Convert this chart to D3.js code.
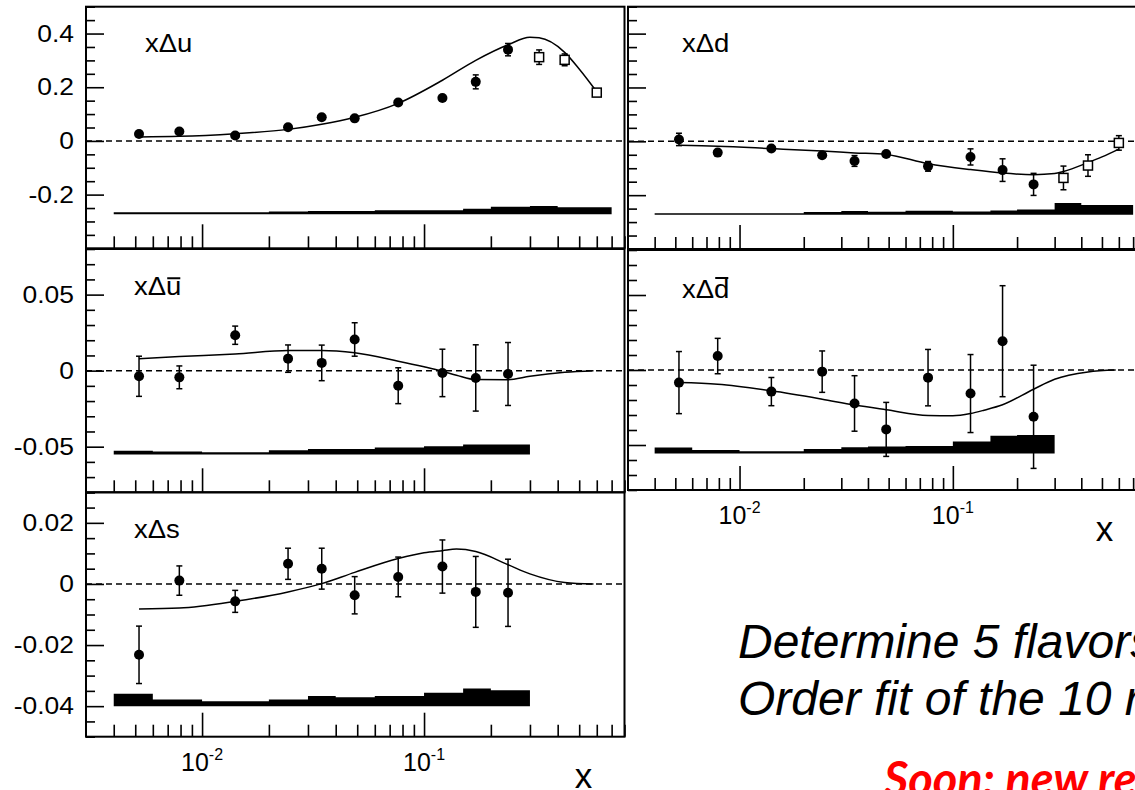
<!DOCTYPE html>
<html>
<head>
<meta charset="utf-8">
<script src="https://cdn.jsdelivr.net/npm/d3@7"></script>
<style>
body { margin: 0; background: #fff; }
svg { display: block; font-family: 'Liberation Sans', Arial, Helvetica, sans-serif; }
</style>
</head>
<body>
<svg id="chart" width="1135" height="790"></svg>
<script>
// x of the measured bins (filled circles) and of the extra points (open squares)
var xBins = [0.0052, 0.0079, 0.0141, 0.0244, 0.0346, 0.0487, 0.0765, 0.121, 0.171, 0.239];
var xOpen = [0.33, 0.43, 0.6];
// edges of the systematic error histogram
var bandEdges = [0.004, 0.006, 0.01, 0.02, 0.03, 0.04, 0.06, 0.1, 0.15, 0.2, 0.3, 0.4, 0.7];
// x where the fit curves were read
var curveXVal = [0.0052, 0.0079, 0.0141, 0.0244, 0.0346, 0.0487, 0.0765, 0.121, 0.171, 0.239, 0.3, 0.33, 0.43, 0.5, 0.6];
var curveXSea = [0.0052, 0.0079, 0.0141, 0.0244, 0.0346, 0.0487, 0.0765, 0.1, 0.121, 0.14, 0.171, 0.239, 0.3, 0.43, 0.58];

// x delta u
var uVal = [0.026, 0.035, 0.020, 0.051, 0.088, 0.084, 0.143, 0.160, 0.220, 0.340];
var uErr = [0.004, 0.004, 0.004, 0.004, 0.004, 0.004, 0.004, 0.004, 0.026, 0.023];
var uOpenVal = [0.312, 0.302, 0.180];
var uOpenErr = [0.027, 0.022, 0.008];
var uCurve = [0.015, 0.017, 0.027, 0.043, 0.062, 0.088, 0.140, 0.226, 0.300, 0.358, 0.386, 0.384, 0.330, 0.268, 0.183];
var uBand = [-0.266, -0.266, -0.266, -0.263, -0.261, -0.261, -0.258, -0.258, -0.253, -0.245, -0.242, -0.247];
var uBandLow = -0.273;

// x delta d
var dVal = [0.007, -0.042, -0.027, -0.052, -0.073, -0.047, -0.093, -0.058, -0.107, -0.160];
var dErr = [0.023, 0.004, 0.004, 0.004, 0.020, 0.004, 0.018, 0.030, 0.042, 0.041];
var dOpenVal = [-0.136, -0.090, -0.006];
var dOpenErr = [0.044, 0.040, 0.027];
var dCurve = [-0.015, -0.018, -0.027, -0.036, -0.043, -0.049, -0.083, -0.105, -0.118, -0.124, -0.120, -0.112, -0.079, -0.058, -0.029];
var dBand = [-0.267, -0.267, -0.267, -0.263, -0.259, -0.262, -0.258, -0.261, -0.257, -0.253, -0.229, -0.237];
var dBandLow = -0.273;

// x delta ubar
var ubVal = [-0.0037, -0.0044, 0.0233, 0.0079, 0.0051, 0.0205, -0.0099, -0.0015, -0.0048, -0.0022];
var ubErr = [0.0132, 0.0075, 0.0060, 0.0090, 0.0117, 0.0110, 0.0118, 0.0156, 0.0218, 0.0207];
var ubCurve = [0.0079, 0.0093, 0.0110, 0.0132, 0.0133, 0.0117, 0.0062, 0.0025, -0.0004, -0.0030, -0.0059, -0.0060, -0.0037, -0.0011, 0];
var ubBand = [-0.0526, -0.0532, -0.0537, -0.0523, -0.0515, -0.0515, -0.0506, -0.0497, -0.0485, -0.0485];
var ubBandLow = -0.0552;

// x delta dbar
var dbVal = [-0.0084, 0.0093, -0.0144, -0.0011, -0.0223, -0.0396, -0.0051, -0.0157, 0.0192, -0.0312];
var dbErr = [0.0207, 0.0118, 0.0094, 0.0138, 0.0185, 0.0180, 0.0188, 0.0260, 0.0370, 0.0344];
var dbCurve = [-0.0084, -0.0095, -0.0139, -0.0195, -0.0234, -0.0265, -0.0303, -0.0305, -0.0290, -0.0268, -0.0232, -0.0128, -0.0062, -0.0013, 0];
var dbBand = [-0.0517, -0.0533, -0.0541, -0.0526, -0.0515, -0.0510, -0.0506, -0.0477, -0.0438, -0.0433];
var dbBandLow = -0.0557;

// x delta s
var sVal = [-0.0232, 0.0011, -0.0057, 0.0066, 0.0050, -0.0037, 0.0023, 0.0057, -0.0026, -0.0029];
var sErr = [0.0094, 0.0048, 0.0036, 0.0051, 0.0067, 0.0061, 0.0065, 0.0087, 0.0116, 0.0110];
var sCurve = [-0.0082, -0.0079, -0.0057, -0.0026, 0.0001, 0.0038, 0.0083, 0.0102, 0.0109, 0.0114, 0.0106, 0.0063, 0.0033, 0.0005, 0];
var sBand = [-0.0359, -0.0378, -0.0384, -0.0378, -0.0367, -0.0371, -0.0367, -0.0356, -0.0342, -0.0348];
var sBandLow = -0.0400;

var xDomain = [0.003, 0.8];
var xMajor = [0.01, 0.1];
var xMinor = [];
[0.001, 0.01, 0.1].forEach(function(dec) {
    for (var k = 2; k <= 9; k++) {
        var v = +(k * dec).toPrecision(3);
        if (v > 0.003 && v <= 0.8 && v != 0.01 && v != 0.1) xMinor.push(v);
    }
});

var svg = d3.select('#chart');
var LEFT = [86, 624.5], RIGHT = [628, 1145.5];

var panels = [
    {xr: LEFT, yr: [6.7, 248.3], ydom: [-0.4, 0.5], yMajor: [-0.2, 0, 0.2, 0.4], yStep: 0.05,
     yLabels: true, xLabels: false, val: uVal, err: uErr, openVal: uOpenVal, openErr: uOpenErr,
     curve: uCurve, cx: curveXVal, band: uBand, bandLow: uBandLow,
     label: ['x\u0394', 'u'], bar: false, lx: 145, ly: 52},
    {xr: RIGHT, yr: [6.7, 249], ydom: [-0.4, 0.5], yMajor: [-0.2, 0, 0.2, 0.4], yStep: 0.05,
     yLabels: false, xLabels: false, val: dVal, err: dErr, openVal: dOpenVal, openErr: dOpenErr,
     curve: dCurve, cx: curveXVal, band: dBand, bandLow: dBandLow,
     label: ['x\u0394', 'd'], bar: false, lx: 682, ly: 52},
    {xr: LEFT, yr: [249, 492.3], ydom: [-0.08, 0.08], yMajor: [-0.05, 0, 0.05], yStep: 0.01,
     yLabels: true, xLabels: false, val: ubVal, err: ubErr,
     curve: ubCurve, cx: curveXSea, band: ubBand, bandLow: ubBandLow,
     label: ['x\u0394', 'u'], bar: true, barH: 0.67, lx: 134, ly: 295},
    {xr: RIGHT, yr: [250, 490], ydom: [-0.08, 0.08], yMajor: [-0.05, 0, 0.05], yStep: 0.01,
     yLabels: false, xLabels: true, val: dbVal, err: dbErr,
     curve: dbCurve, cx: curveXSea, band: dbBand, bandLow: dbBandLow,
     label: ['x\u0394', 'd'], bar: true, barH: 0.8, lx: 682, ly: 298},
    {xr: LEFT, yr: [492.3, 736.7], ydom: [-0.05, 0.03], yMajor: [-0.04, -0.02, 0, 0.02], yStep: 0.005,
     yLabels: true, xLabels: true, val: sVal, err: sErr,
     curve: sCurve, cx: curveXSea, band: sBand, bandLow: sBandLow,
     label: ['x\u0394', 's'], bar: false, lx: 134, ly: 538}
];

function minor_ticks(dom, step, majors) {
    var out = [];
    var i0 = Math.ceil(dom[0] / step - 1e-6), i1 = Math.floor(dom[1] / step + 1e-6);
    for (var i = i0; i <= i1; i++) {
        var v = i * step;
        var isMajor = majors.some(function(m) { return Math.abs(m - v) < step / 10; });
        if (!isMajor) out.push(v);
    }
    return out;
}

function style_axis(a) {
    a.select('.domain').remove();
    a.selectAll('.tick line').attr('stroke', '#000').attr('stroke-width', 1.6);
    a.attr('font-family', null).attr('font-size', null);
}

function draw_panel(p) {
    var x = d3.scaleLog().domain(xDomain).range(p.xr);
    var y = d3.scaleLinear().domain(p.ydom).range([p.yr[1], p.yr[0]]);
    var g = svg.append('g');

    // dashed zero line
    g.append('line')
        .attr('x1', p.xr[0]).attr('x2', p.xr[1])
        .attr('y1', y(0)).attr('y2', y(0))
        .attr('stroke', '#000').attr('stroke-width', 1.5)
        .attr('stroke-dasharray', '6,4');

    // systematic band (histogram)
    var bd = p.band.map(function(t, i) { return {e: bandEdges[i], t: t}; });
    bd.push({e: bandEdges[p.band.length], t: p.band[p.band.length - 1]});
    g.append('path').datum(bd)
        .attr('d', d3.area().curve(d3.curveStepAfter)
            .x(function(d) { return x(d.e); })
            .y0(y(p.bandLow))
            .y1(function(d) { return y(d.t); }))
        .attr('fill', '#000');

    // fit curve
    g.append('path')
        .datum(p.curve.map(function(v, i) { return [p.cx[i], v]; }))
        .attr('d', d3.line().curve(d3.curveMonotoneX)
            .x(function(d) { return x(d[0]); })
            .y(function(d) { return y(d[1]); }))
        .attr('fill', 'none').attr('stroke', '#000').attr('stroke-width', 1.5);

    // points
    var pts = p.val.map(function(v, i) { return {x: xBins[i], v: v, e: p.err[i], open: false}; });
    if (p.openVal) {
        p.openVal.forEach(function(v, i) { pts.push({x: xOpen[i], v: v, e: p.openErr[i], open: true}); });
    }
    var eb = g.selectAll('g.eb').data(pts).enter().append('g')
        .attr('class', 'eb').attr('stroke', '#000').attr('stroke-width', 1.5);
    eb.append('line')
        .attr('x1', function(d) { return x(d.x); }).attr('x2', function(d) { return x(d.x); })
        .attr('y1', function(d) { return y(d.v - d.e); }).attr('y2', function(d) { return y(d.v + d.e); });
    [-1, 1].forEach(function(sgn) {
        eb.append('line')
            .attr('x1', function(d) { return x(d.x) - 3; }).attr('x2', function(d) { return x(d.x) + 3; })
            .attr('y1', function(d) { return y(d.v + sgn * d.e); }).attr('y2', function(d) { return y(d.v + sgn * d.e); });
    });
    g.selectAll('circle.pt').data(pts.filter(function(d) { return !d.open; })).enter()
        .append('circle').attr('class', 'pt')
        .attr('cx', function(d) { return x(d.x); })
        .attr('cy', function(d) { return y(d.v); })
        .attr('r', 5).attr('fill', '#000');
    g.selectAll('rect.pt').data(pts.filter(function(d) { return d.open; })).enter()
        .append('rect').attr('class', 'pt')
        .attr('x', function(d) { return x(d.x) - 4.5; })
        .attr('y', function(d) { return y(d.v) - 4.5; })
        .attr('width', 9).attr('height', 9)
        .attr('fill', '#fff').attr('stroke', '#000').attr('stroke-width', 1.5);

    // y axis: major + minor ticks pointing inward
    var ya = g.append('g').attr('transform', 'translate(' + p.xr[0] + ',0)')
        .call(d3.axisLeft(y).tickValues(p.yMajor).tickSizeInner(-18).tickSizeOuter(0).tickPadding(11)
            .tickFormat(p.yLabels ? function(d) { return String(d); } : function() { return ''; }));
    style_axis(ya);
    ya.selectAll('.tick text')
        .attr('font-size', 24).attr('fill', '#000')
        .attr('transform', 'scale(1.1,1)');
    var ym = g.append('g').attr('transform', 'translate(' + p.xr[0] + ',0)')
        .call(d3.axisLeft(y).tickValues(minor_ticks(p.ydom, p.yStep, p.yMajor))
            .tickSizeInner(-9).tickSizeOuter(0).tickFormat(''));
    style_axis(ym);

    // x axis ticks
    var xa = g.append('g').attr('transform', 'translate(0,' + p.yr[1] + ')')
        .call(d3.axisBottom(x).tickValues(xMajor).tickSizeInner(-24).tickSizeOuter(0).tickFormat(''));
    style_axis(xa);
    var xm = g.append('g').attr('transform', 'translate(0,' + p.yr[1] + ')')
        .call(d3.axisBottom(x).tickValues(xMinor).tickSizeInner(-12).tickSizeOuter(0).tickFormat(''));
    style_axis(xm);

    if (p.xLabels) {
        xMajor.forEach(function(v) {
            var t = g.append('text')
                .attr('x', x(v)).attr('y', p.yr[1] + 34)
                .attr('text-anchor', 'middle').attr('font-size', 25);
            t.append('tspan').text('10');
            t.append('tspan').attr('dy', -11).attr('font-size', 16).text(String(Math.round(Math.log10(v))));
        });
        g.append('text')
            .attr('x', p.xr[1] - 41).attr('y', p.yr[1] + 51)
            .attr('text-anchor', 'middle').attr('font-size', 35)
            .text('x');
    }

    // frame
    g.append('rect')
        .attr('x', p.xr[0]).attr('y', p.yr[0])
        .attr('width', p.xr[1] - p.xr[0]).attr('height', p.yr[1] - p.yr[0])
        .attr('fill', 'none').attr('stroke', '#000').attr('stroke-width', 2);

    // panel label
    var lg = g.append('g').attr('transform', 'translate(' + p.lx + ',' + p.ly + ') scale(1.1,1)');
    var lt = lg.append('text').attr('font-size', 25).attr('fill', '#000');
    lt.append('tspan').text(p.label[0]);
    lt.append('tspan').text(p.label[1]);
    if (p.bar) {
        var ext = lt.node().getExtentOfChar(2);
        lg.append('line')
            .attr('x1', ext.x + 1).attr('x2', ext.x + ext.width - 1)
            .attr('y1', -p.barH * 25).attr('y2', -p.barH * 25)
            .attr('stroke', '#000').attr('stroke-width', 2);
    }
}

panels.forEach(draw_panel);

// slide text
svg.append('text')
    .attr('x', 738).attr('y', 658)
    .attr('font-size', 48).attr('font-style', 'italic')
    .text('Determine 5 flavors');
svg.append('text')
    .attr('x', 738).attr('y', 715)
    .attr('font-size', 48).attr('font-style', 'italic')
    .text('Order fit of the 10 r');
svg.append('text')
    .attr('x', 884).attr('y', 796)
    .attr('font-family', 'Lato, "Open Sans", sans-serif')
    .attr('font-size', 47).attr('font-style', 'italic').attr('font-weight', 'bold')
    .attr('fill', '#ff0000')
    .text('Soon: new re');
</script>
</body>
</html>
